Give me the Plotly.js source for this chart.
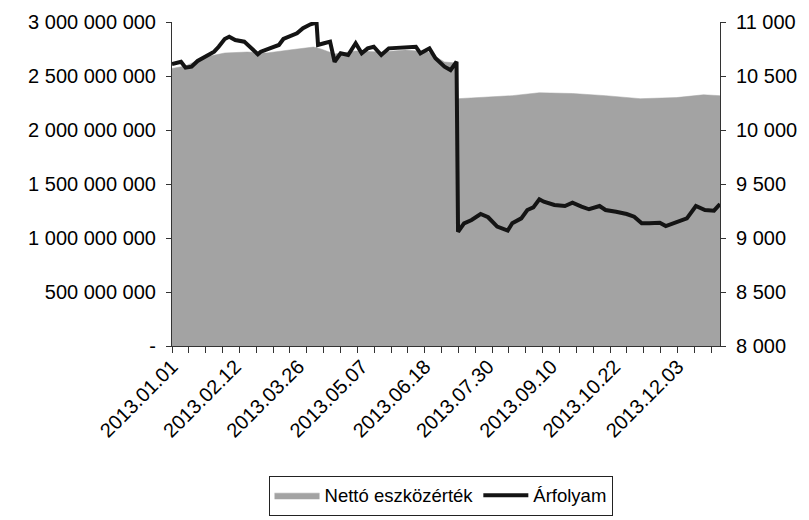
<!DOCTYPE html>
<html>
<head>
<meta charset="utf-8">
<script src="https://cdn.plot.ly/plotly-3.0.1.min.js"></script>
<style>html,body{margin:0;padding:0;background:#fff;}#chart{width:809px;height:520px;}</style>
</head>
<body>
<div id="chart"></div>
<script>
// Nettó eszközérték (net asset value), left axis
var navDates = ['2013-01-01','2013-01-10','2013-01-23','2013-02-05','2013-02-20','2013-03-05','2013-03-20','2013-04-05','2013-04-10','2013-04-19','2013-05-03','2013-05-20','2013-06-05','2013-06-20','2013-07-01','2013-07-09','2013-07-10','2013-07-25','2013-08-15','2013-09-02','2013-09-24','2013-10-16','2013-11-08','2013-12-02','2013-12-20','2013-12-31'];
var navValues = [2570000000,2593000000,2676000000,2713000000,2722000000,2713000000,2741000000,2768000000,2750000000,2704000000,2731000000,2722000000,2741000000,2722000000,2630000000,2620000000,2290000000,2300000000,2318000000,2345000000,2338000000,2318000000,2290000000,2300000000,2326000000,2318000000];

// Árfolyam (price), right axis
var priceDates = ['2013-01-01','2013-01-07','2013-01-10','2013-01-14','2013-01-18','2013-01-23','2013-01-29','2013-02-01','2013-02-05','2013-02-08','2013-02-12','2013-02-18','2013-02-22','2013-02-27','2013-03-01','2013-03-07','2013-03-13','2013-03-16','2013-03-20','2013-03-25','2013-03-29','2013-04-03','2013-04-07','2013-04-08','2013-04-12','2013-04-16','2013-04-19','2013-04-23','2013-04-28','2013-05-03','2013-05-07','2013-05-11','2013-05-15','2013-05-20','2013-05-25','2013-06-02','2013-06-12','2013-06-15','2013-06-21','2013-06-25','2013-07-01','2013-07-05','2013-07-09','2013-07-10','2013-07-14','2013-07-19','2013-07-25','2013-07-30','2013-08-05','2013-08-12','2013-08-15','2013-08-21','2013-08-25','2013-08-29','2013-09-02','2013-09-05','2013-09-12','2013-09-19','2013-09-24','2013-09-30','2013-10-05','2013-10-12','2013-10-16','2013-10-23','2013-10-30','2013-11-04','2013-11-09','2013-11-14','2013-11-21','2013-11-25','2013-12-02','2013-12-09','2013-12-15','2013-12-21','2013-12-27','2013-12-31'];
var priceValues = [10610,10632,10577,10586,10639,10679,10725,10771,10843,10864,10833,10818,10771,10701,10725,10756,10787,10843,10864,10895,10942,10979,10995,10787,10803,10818,10632,10710,10694,10803,10710,10756,10771,10694,10756,10762,10771,10710,10756,10664,10586,10555,10632,9058,9136,9167,9222,9192,9105,9068,9136,9182,9259,9284,9358,9336,9306,9296,9327,9290,9266,9296,9259,9243,9222,9197,9136,9136,9142,9111,9151,9182,9296,9259,9253,9315];

// Tick labels
var xTickVals = ['2013-01-01','2013-02-12','2013-03-26','2013-05-07','2013-06-18','2013-07-30','2013-09-10','2013-10-22','2013-12-03'];
var xTickText = ['2013.01.01','2013.02.12','2013.03.26','2013.05.07','2013.06.18','2013.07.30','2013.09.10','2013.10.22','2013.12.03'];
var yLeftVals = [0,500000000,1000000000,1500000000,2000000000,2500000000,3000000000];
var yLeftText = ['-','500 000 000','1 000 000 000','1 500 000 000','2 000 000 000','2 500 000 000','3 000 000 000'];
var yRightVals = [8000,8500,9000,9500,10000,10500,11000];
var yRightText = ['8 000','8 500','9 000','9 500','10 000','10 500','11 000'];
var seriesNames = ['Nettó eszközérték','Árfolyam'];

var FONT = 'Liberation Sans, Arial, sans-serif';
var FS = 20;

var traces = [
  {
    x: navDates, y: navValues, name: seriesNames[0], type: 'scatter', mode: 'lines',
    fill: 'tozeroy', fillcolor: '#a3a3a3', line: {color: '#a3a3a3', width: 0.5},
    yaxis: 'y', hoverinfo: 'skip'
  },
  {
    x: priceDates, y: priceValues, name: seriesNames[1], type: 'scatter', mode: 'lines',
    line: {color: '#141414', width: 4}, yaxis: 'y2', hoverinfo: 'skip'
  }
];

var layout = {
  width: 809, height: 520,
  margin: {l: 172, r: 89, t: 22, b: 174, autoexpand: false},
  paper_bgcolor: '#ffffff', plot_bgcolor: '#ffffff',
  font: {family: FONT, size: FS, color: '#000'},
  showlegend: true,
  legend: {
    orientation: 'h', x: 0.49, xanchor: 'center', y: -0.40, yanchor: 'top',
    bordercolor: '#222', borderwidth: 1, font: {family: FONT, size: 18.5, color: '#000'},
    traceorder: 'normal', itemwidth: 45
  },
  xaxis: {
    type: 'date', range: ['2013-01-01', '2013-12-31'], automargin: false,
    tickmode: 'array', tickvals: xTickVals, ticktext: xTickText, tickangle: -45,
    ticks: '', showgrid: false, zeroline: false,
    showline: true, linecolor: '#333', linewidth: 1,
    minor: {ticks: 'outside', ticklen: 6, tickwidth: 1, tickcolor: '#333', tick0: '2013-01-01', dtick: 11.19 * 86400000, showgrid: false},
    tickfont: {family: FONT, size: FS, color: '#000'}
  },
  yaxis: {
    range: [0, 3000000000], tickmode: 'array', tickvals: yLeftVals, ticktext: yLeftText, automargin: false,
    ticks: 'outside', ticklen: 5, tickcolor: '#333', ticklabelstandoff: 6,
    showgrid: false, zeroline: false, showline: true, linecolor: '#333', linewidth: 1,
    tickfont: {family: FONT, size: FS, color: '#000'}
  },
  yaxis2: {
    range: [8000, 11000], overlaying: 'y', side: 'right', tickmode: 'array', automargin: false,
    tickvals: yRightVals, ticktext: yRightText,
    ticks: 'outside', ticklen: 5, tickcolor: '#333', ticklabelstandoff: 6,
    showgrid: false, zeroline: false, showline: true, linecolor: '#333', linewidth: 1,
    tickfont: {family: FONT, size: FS, color: '#000'}
  }
};

Plotly.newPlot('chart', traces, layout, {staticPlot: true, displayModeBar: false});
</script>
</body>
</html>
